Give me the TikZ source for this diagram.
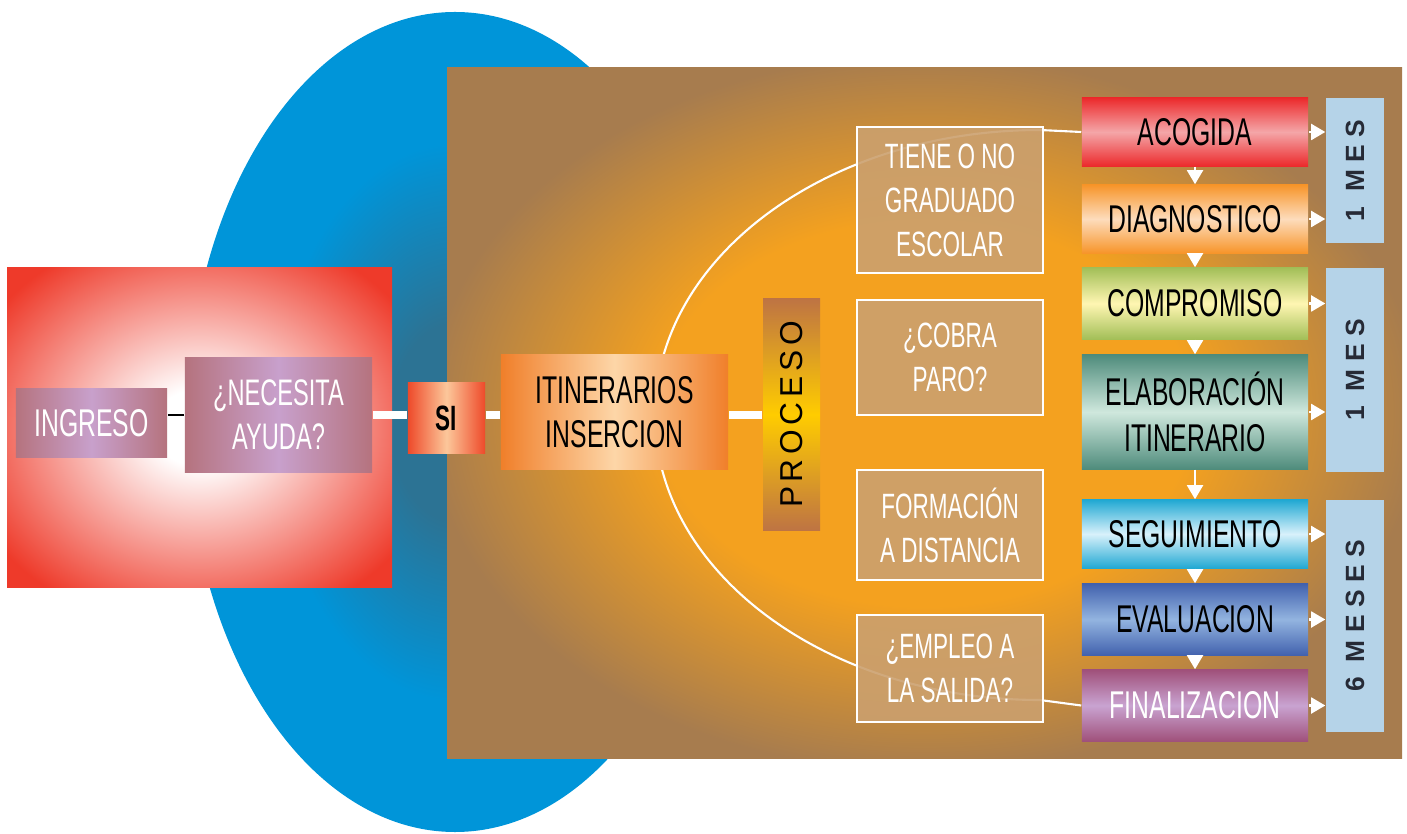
\documentclass[tikz,border=0pt]{standalone}
\usepackage{fontspec}
\setmainfont{Liberation Sans}
\newfontfamily\narrowfont{Liberation Sans}[FakeStretch=0.64]
\newfontfamily\spacedfont{Liberation Sans}[LetterSpace=28]
\newfontfamily\procfont{Liberation Sans}[LetterSpace=15]
\usetikzlibrary{arrows.meta,backgrounds}

% Colores
\definecolor{marron}{HTML}{A77C4E}
\definecolor{naranja}{HTML}{F4A11F}
\definecolor{azul}{HTML}{0095D9}
\definecolor{azuloscuro}{HTML}{2C7394}
\definecolor{rojo}{HTML}{EE3A2A}
\definecolor{malvaborde}{HTML}{B5737E}
\definecolor{malvacentro}{HTML}{C8A0CC}
\definecolor{siborde}{HTML}{EE4A2A}
\definecolor{sicentro}{HTML}{FCC79A}
\definecolor{itiborde}{HTML}{F07F2A}
\definecolor{iticentro}{HTML}{FDD6A8}
\definecolor{procborde}{HTML}{BE7443}
\definecolor{proccentro}{HTML}{FFCC00}
\definecolor{arena}{HTML}{CBA06E}
\definecolor{celeste}{HTML}{B5D3E8}
\definecolor{textomes}{HTML}{262A36}
\definecolor{acoB}{HTML}{EC2A2C}
\definecolor{acoC}{HTML}{F4A6A8}
\definecolor{diaB}{HTML}{F7952A}
\definecolor{diaC}{HTML}{FDDCBC}
\definecolor{comB}{HTML}{A3BF58}
\definecolor{comC}{HTML}{FFF6B2}
\definecolor{elaB}{HTML}{4F8C7C}
\definecolor{elaC}{HTML}{CFE8DD}
\definecolor{segB}{HTML}{22A9D3}
\definecolor{segC}{HTML}{D8F1FB}
\definecolor{evaB}{HTML}{4262AE}
\definecolor{evaC}{HTML}{93B4E0}
\definecolor{finB}{HTML}{A0517B}
\definecolor{finC}{HTML}{C9A3D1}

\pgfdeclareradialshading{marronfondo}{\pgfpoint{0bp}{0bp}}{color(0bp)=(naranja); color(14bp)=(naranja); color(26bp)=(marron); color(50bp)=(marron)}
\pgfdeclareradialshading{rojofondo}{\pgfpoint{0bp}{0bp}}{color(0bp)=(white); color(6bp)=(white); color(32bp)=(rojo); color(50bp)=(rojo)}
\pgfdeclareradialshading{azulfondo}{\pgfpoint{0bp}{0bp}}{color(0bp)=(azuloscuro); color(6bp)=(azuloscuro); color(17bp)=(azul); color(50bp)=(azul)}

\begin{document}
\begin{tikzpicture}[
    x=0.01cm, y=-0.01cm,
    every node/.style={inner sep=0pt, align=center},
    caja/.style 2 args={rectangle, left color=#1, right color=#1, middle color=#2},
    etapa/.style 2 args={rectangle, top color=#1, bottom color=#1, middle color=#2, minimum width=2.26cm, font=\narrowfont\fontsize{11}{13}\selectfont},
    pregunta/.style={rectangle, draw=white, line width=0.5pt, fill=arena, fill opacity=0.9, text opacity=1, text=white, minimum width=1.86cm, font=\narrowfont\fontsize{10}{12.5}\selectfont},
    mesbox/.style={rectangle, fill=celeste, text=textomes, minimum width=0.58cm, font=\spacedfont\bfseries\fontsize{7.5}{9}\selectfont},
    enlace/.style={draw=white, line width=2.3pt},
    flecha/.style={draw=white, line width=0.7pt, -{Triangle[length=4pt,width=4.5pt]}},
    curva/.style={draw=white, line width=0.6pt}
]
\useasboundingbox (0,0) rectangle (1407,834);

% Nodos (posiciones a mano)
\node[caja={malvaborde}{malvacentro}, minimum width=1.51cm, minimum height=0.68cm, text=white, font=\narrowfont\fontsize{11}{13}\selectfont] (ingreso) at (91.5,423) {INGRESO};
\node[caja={malvaborde}{malvacentro}, minimum width=1.87cm, minimum height=1.14cm, text=white, font=\narrowfont\fontsize{10.5}{12.5}\selectfont] (necesita) at (278.5,415) {¿NECESITA\\AYUDA?};
\node[caja={siborde}{sicentro}, minimum width=0.77cm, minimum height=0.70cm, font=\narrowfont\bfseries\fontsize{10}{12}\selectfont] (si) at (446.5,418) {SI};
\node[caja={itiborde}{iticentro}, minimum width=2.27cm, minimum height=1.14cm, font=\narrowfont\fontsize{11}{12.5}\selectfont] (itinerarios) at (614.5,412) {ITINERARIOS\\INSERCION};
\node[rectangle, top color=procborde, bottom color=procborde, middle color=proccentro, minimum width=0.57cm, minimum height=2.31cm, font=\procfont\fontsize{9}{10}\selectfont] (proceso) at (791.5,414.5) {\rotatebox{90}{PROCESO}};

\node[pregunta, minimum height=1.46cm] (tiene) at (950,200) {TIENE O NO\\GRADUADO\\ESCOLAR};
\node[pregunta, minimum height=1.15cm] (cobra) at (950,357.5) {¿COBRA\\PARO?};
\node[pregunta, minimum height=1.10cm] (formacion) at (950,525) {FORMACIÓN\\A DISTANCIA};
\node[pregunta, minimum height=1.07cm] (empleo) at (950,668.5) {¿EMPLEO A\\LA SALIDA?};

\node[etapa={acoB}{acoC}, minimum height=0.68cm] (acogida) at (1195,132) {ACOGIDA};
\node[etapa={diaB}{diaC}, minimum height=0.68cm] (diagnostico) at (1195,219) {DIAGNOSTICO};
\node[etapa={comB}{comC}, minimum height=0.71cm] (compromiso) at (1195,303.5) {COMPROMISO};
\node[etapa={elaB}{elaC}, minimum height=1.14cm] (elaboracion) at (1195,412) {ELABORACIÓN\\ITINERARIO};
\node[etapa={segB}{segC}, minimum height=0.68cm] (seguimiento) at (1195,534) {SEGUIMIENTO};
\node[etapa={evaB}{evaC}, minimum height=0.71cm] (evaluacion) at (1195,619.5) {EVALUACION};
\node[etapa={finB}{finC}, minimum height=0.71cm, text=white] (finalizacion) at (1195,705.5) {FINALIZACION};

\node[mesbox, minimum height=1.45cm] (mesA) at (1355,170.5) {\rotatebox{90}{1 MES}};
\node[mesbox, minimum height=2.04cm] (mesB) at (1355,370) {\rotatebox{90}{1 MES}};
\node[mesbox, minimum height=2.32cm] (mesC) at (1355,616) {\rotatebox{90}{6 MESES}};

% Enlaces
\coordinate (eje) at (0,415);
\draw[line width=0.6pt] (necesita.west) -- (necesita.west -| ingreso.east);
\draw[enlace] (necesita.east) -- (necesita.east -| si.west);
\draw[enlace] (si.east |- eje) -- (itinerarios.west |- eje);
\draw[enlace] (itinerarios.east |- eje) -- (proceso.west |- eje);

% Flechas
\foreach \a/\b in {acogida/diagnostico, diagnostico/compromiso, compromiso/elaboracion, elaboracion/seguimiento, seguimiento/evaluacion, evaluacion/finalizacion}
    \draw[flecha] (\a) -- (\b);
\foreach \e/\m in {acogida/mesA, diagnostico/mesA, compromiso/mesB, elaboracion/mesB, seguimiento/mesC, evaluacion/mesC, finalizacion/mesC}
    \draw[flecha] (\e.east) -- (\e.east -| \m.west);

% Fondo y curva
\begin{pgfonlayer}{background}
\shade[shading=azulfondo] (455,422) ellipse [x radius=268, y radius=410];
\shade[shading=rojofondo] (7,268) rectangle (392,587);
\shade[shading=marronfondo] (447,68) rectangle (1402,758);
\coordinate (arcoarriba) at (1040,130);
\draw[curva] (acogida.west) -- (arcoarriba) arc[start angle=270, end angle=90, x radius=385, y radius=285] -- (finalizacion.west);
\end{pgfonlayer}

\end{tikzpicture}
\end{document}
